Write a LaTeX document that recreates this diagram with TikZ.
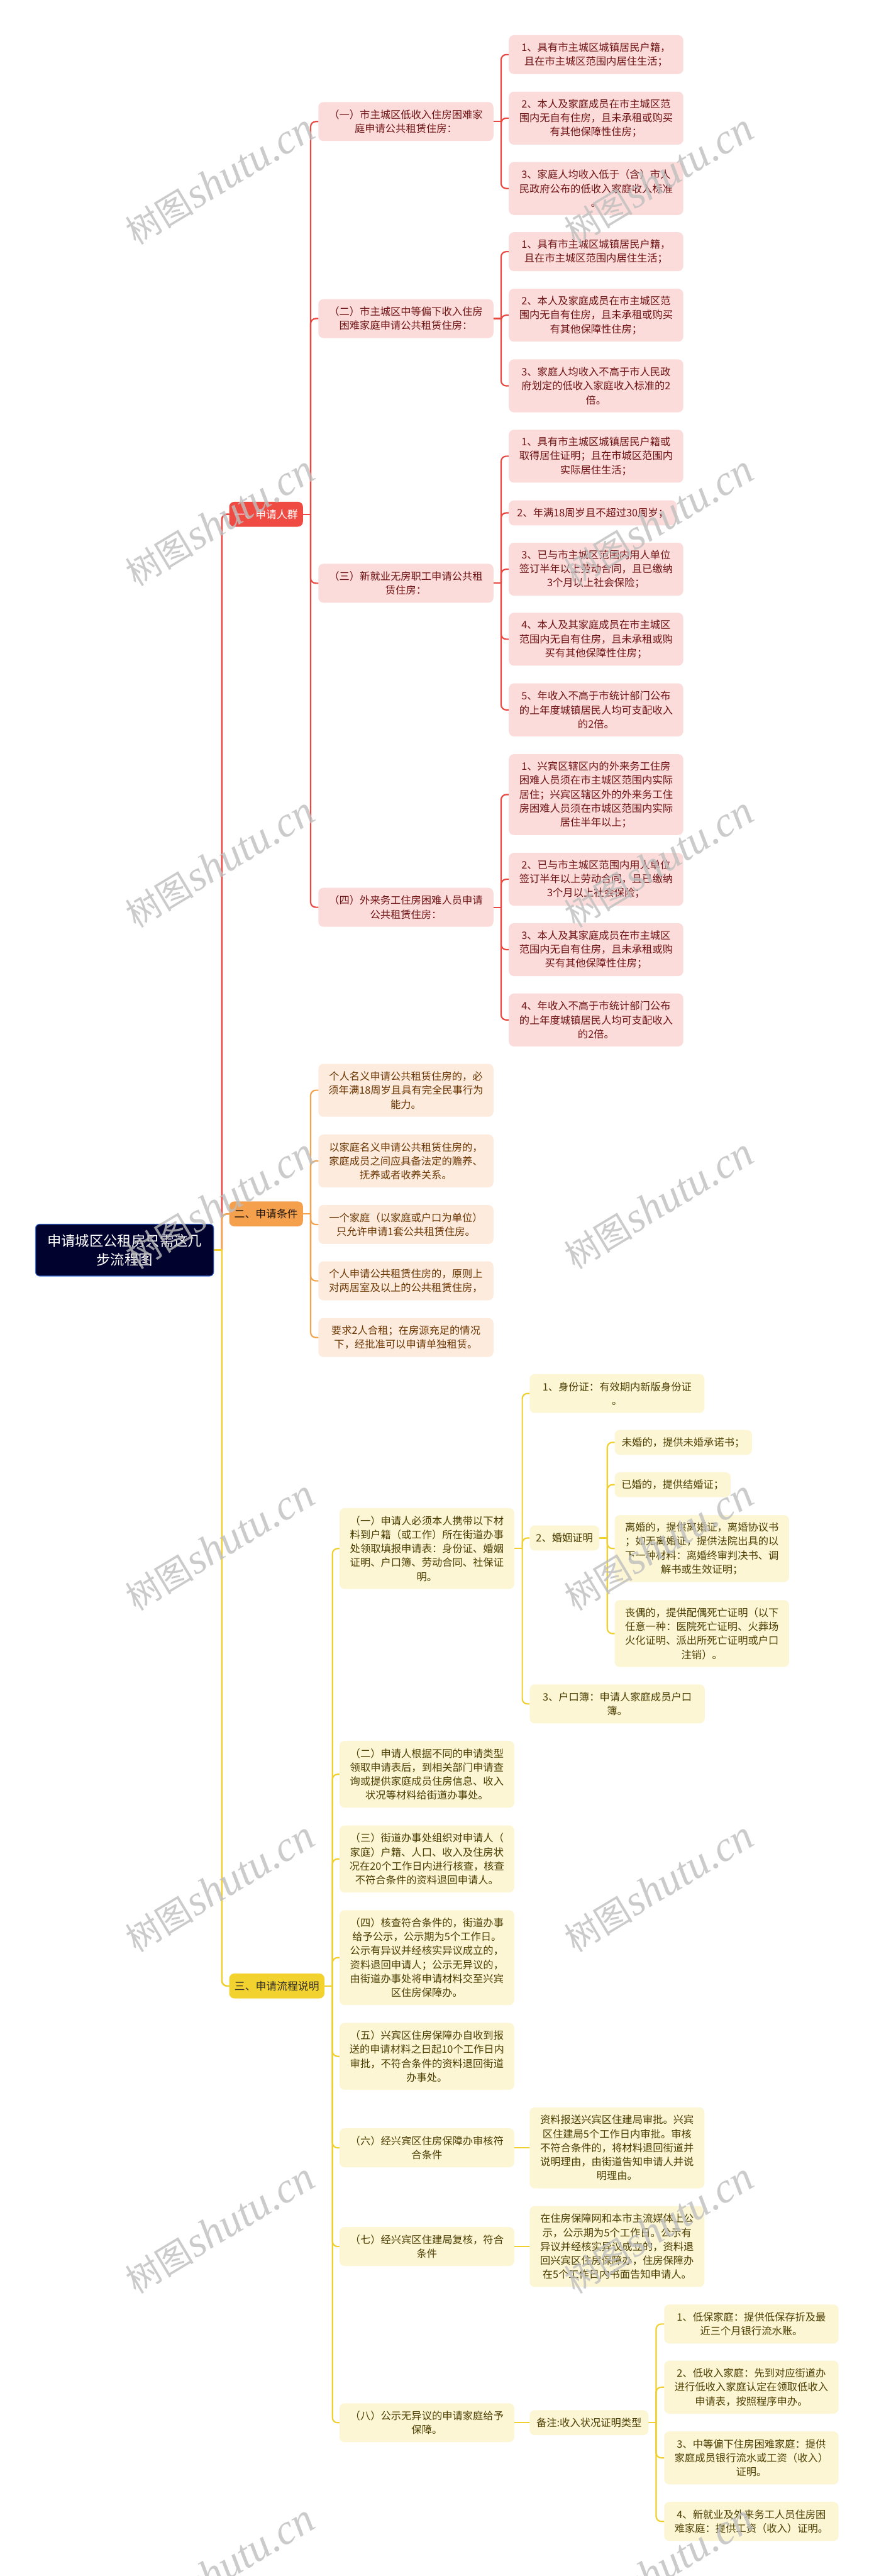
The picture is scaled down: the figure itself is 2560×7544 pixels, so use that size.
\documentclass[tikz,border=0pt]{standalone}
\usepackage{fontspec}
\setmainfont{Noto Sans CJK SC}
\newfontfamily\wmlatin{Liberation Serif}
\definecolor{rline}{HTML}{E9473F}
\definecolor{rfill}{HTML}{F04B43}
\definecolor{rleaf}{HTML}{FCDCDB}
\definecolor{rtext}{HTML}{6E1212}
\definecolor{oline}{HTML}{F3A24D}
\definecolor{ofill}{HTML}{F5A04D}
\definecolor{oleaf}{HTML}{FDEBDE}
\definecolor{otext}{HTML}{6A3500}
\definecolor{yline}{HTML}{F0D02E}
\definecolor{yfill}{HTML}{F2D22E}
\definecolor{yleaf}{HTML}{FDF6D5}
\definecolor{ytext}{HTML}{4B3E00}
\definecolor{rootfill}{HTML}{02022F}
\definecolor{rootborder}{HTML}{3A6FD8}
\definecolor{wmgray}{HTML}{BEBEBE}
\pgfdeclarelayer{bg}
\pgfsetlayers{bg,main}
\tikzset{
  base/.style={rounded corners=7.5pt, align=center, inner sep=0pt, anchor=west,
    font=\fontsize{15}{20.5}\selectfont},
  nl/.style={minimum height={(41*#1+32)*0.5pt}},
  wd/.style={minimum width={#1*0.5pt}},
  rnode/.style={base, fill=rleaf, text=rtext},
  onode/.style={base, fill=oleaf, text=otext},
  ynode/.style={base, fill=yleaf, text=ytext},
  topic/.style={rounded corners=7.5pt, align=center, inner sep=0pt, anchor=west,
    font=\fontsize{15.5}{20.5}\selectfont, minimum height=36.5pt},
  rootbox/.style={rounded corners=6pt, align=center, inner sep=0pt, anchor=west,
    fill=rootfill, draw=rootborder, line width=1pt, text=white,
    font=\fontsize{20.6}{27.5}\selectfont, minimum width=261pt, minimum height=76pt},
  rconn/.style={draw=rline, line width=2pt, rounded corners=7.5pt, line cap=round},
  oconn/.style={draw=oline, line width=2pt, rounded corners=7.5pt, line cap=round},
  yconn/.style={draw=yline, line width=2pt, rounded corners=7.5pt, line cap=round},
  wm/.style={rotate=31, text=wmgray, text opacity=0.8, inner sep=0pt},
}
\begin{document}
\begin{tikzpicture}[x=0.5pt,y=-0.5pt]
\useasboundingbox (0,0) rectangle (2560,7544);
\begin{pgfonlayer}{bg}
\fill[white] (0,0) rectangle (2560,7544);
\end{pgfonlayer}

% root and topics
\node[rootbox] (root) at (103,3661) {申请城区公租房只需这几\\步流程图};
\node[topic, fill=rfill, text=white, minimum width=108pt] (s1) at (671,1506) {一、申请人群};
\node[topic, fill=ofill, text={black!85!brown}, minimum width=108pt] (s2) at (671,3555) {二、申请条件};
\node[topic, fill=yfill, text={black!85!olive}, minimum width=139.5pt] (s3) at (671,5816) {三、申请流程说明};

% red branch
\node[rnode,wd=513,nl=2] (a1) at (932,356) {（一）市主城区低收入住房困难家\\庭申请公共租赁住房：};
\node[rnode,wd=513,nl=2] (a2) at (932,933) {（二）市主城区中等偏下收入住房\\困难家庭申请公共租赁住房：};
\node[rnode,wd=513,nl=2] (a3) at (932,1708) {（三）新就业无房职工申请公共租\\赁住房：};
\node[rnode,wd=513,nl=2] (a4) at (932,2657) {（四）外来务工住房困难人员申请\\公共租赁住房：};

\node[rnode,wd=511,nl=2] (a11) at (1490,160) {1、具有市主城区城镇居民户籍，\\且在市主城区范围内居住生活；};
\node[rnode,wd=511,nl=3] (a12) at (1490,346) {2、本人及家庭成员在市主城区范\\围内无自有住房，且未承租或购买\\有其他保障性住房；};
\node[rnode,wd=511,nl=3] (a13) at (1490,552) {3、家庭人均收入低于（含）市人\\民政府公布的低收入家庭收入标准\\。};

\node[rnode,wd=511,nl=2] (a21) at (1490,737) {1、具有市主城区城镇居民户籍，\\且在市主城区范围内居住生活；};
\node[rnode,wd=511,nl=3] (a22) at (1490,923) {2、本人及家庭成员在市主城区范\\围内无自有住房，且未承租或购买\\有其他保障性住房；};
\node[rnode,wd=511,nl=3] (a23) at (1490,1130) {3、家庭人均收入不高于市人民政\\府划定的低收入家庭收入标准的2\\倍。};

\node[rnode,wd=511,nl=3] (a31) at (1490,1336) {1、具有市主城区城镇居民户籍或\\取得居住证明；且在市城区范围内\\实际居住生活；};
\node[rnode,wd=492,nl=1] (a32) at (1490,1502) {2、年满18周岁且不超过30周岁；};
\node[rnode,wd=511,nl=3] (a33) at (1490,1667) {3、已与市主城区范围内用人单位\\签订半年以上劳动合同，且已缴纳\\3个月以上社会保险；};
\node[rnode,wd=511,nl=3] (a34) at (1490,1872) {4、本人及其家庭成员在市主城区\\范围内无自有住房，且未承租或购\\买有其他保障性住房；};
\node[rnode,wd=511,nl=3] (a35) at (1490,2079) {5、年收入不高于市统计部门公布\\的上年度城镇居民人均可支配收入\\的2倍。};

\node[rnode,wd=511,nl=5] (a41) at (1490,2327) {1、兴宾区辖区内的外来务工住房\\困难人员须在市主城区范围内实际\\居住；兴宾区辖区外的外来务工住\\房困难人员须在市城区范围内实际\\居住半年以上；};
\node[rnode,wd=511,nl=3] (a42) at (1490,2575) {2、已与市主城区范围内用人单位\\签订半年以上劳动合同，且已缴纳\\3个月以上社会保险；};
\node[rnode,wd=511,nl=3] (a43) at (1490,2781) {3、本人及其家庭成员在市主城区\\范围内无自有住房，且未承租或购\\买有其他保障性住房；};
\node[rnode,wd=511,nl=3] (a44) at (1490,2987) {4、年收入不高于市统计部门公布\\的上年度城镇居民人均可支配收入\\的2倍。};

% orange branch
\node[onode,wd=513,nl=3] (b1) at (932,3193) {个人名义申请公共租赁住房的，必\\须年满18周岁且具有完全民事行为\\能力。};
\node[onode,wd=513,nl=3] (b2) at (932,3400) {以家庭名义申请公共租赁住房的，\\家庭成员之间应具备法定的赡养、\\抚养或者收养关系。};
\node[onode,wd=513,nl=2] (b3) at (932,3586) {一个家庭（以家庭或户口为单位）\\只允许申请1套公共租赁住房。};
\node[onode,wd=513,nl=2] (b4) at (932,3751) {个人申请公共租赁住房的，原则上\\对两居室及以上的公共租赁住房，};
\node[onode,wd=513,nl=2] (b5) at (932,3917) {要求2人合租；在房源充足的情况\\下，经批准可以申请单独租赁。};

% yellow branch
\node[ynode,wd=512,nl=5] (c1) at (994,4535) {（一）申请人必须本人携带以下材\\料到户籍（或工作）所在街道办事\\处领取填报申请表：身份证、婚姻\\证明、户口簿、劳动合同、社保证\\明。};
\node[ynode,wd=512,nl=4] (c2) at (994,5196) {（二）申请人根据不同的申请类型\\领取申请表后，到相关部门申请查\\询或提供家庭成员住房信息、收入\\状况等材料给街道办事处。};
\node[ynode,wd=512,nl=4] (c3) at (994,5444) {（三）街道办事处组织对申请人（\\家庭）户籍、人口、收入及住房状\\况在20个工作日内进行核查，核查\\不符合条件的资料退回申请人。};
\node[ynode,wd=512,nl=6] (c4) at (994,5733) {（四）核查符合条件的，街道办事\\给予公示，公示期为5个工作日。\\公示有异议并经核实异议成立的，\\资料退回申请人；公示无异议的，\\由街道办事处将申请材料交至兴宾\\区住房保障办。};
\node[ynode,wd=512,nl=4] (c5) at (994,6022) {（五）兴宾区住房保障办自收到报\\送的申请材料之日起10个工作日内\\审批，不符合条件的资料退回街道\\办事处。};
\node[ynode,wd=512,nl=2] (c6) at (994,6290) {（六）经兴宾区住房保障办审核符\\合条件};
\node[ynode,wd=512,nl=2] (c7) at (994,6579) {（七）经兴宾区住建局复核，符合\\条件};
\node[ynode,wd=512,nl=2] (c8) at (994,7095) {（八）公示无异议的申请家庭给予\\保障。};

\node[ynode,wd=512,nl=2] (c11) at (1551,4081) {1、身份证：有效期内新版身份证\\。};
\node[ynode,wd=204,nl=1] (c12) at (1551,4504) {2、婚姻证明};
\node[ynode,wd=513,nl=2] (c13) at (1551,4990) {3、户口簿：申请人家庭成员户口\\簿。};

\node[ynode,wd=402,nl=1] (m1) at (1800,4224) {未婚的，提供未婚承诺书；};
\node[ynode,wd=340,nl=1] (m2) at (1800,4348) {已婚的，提供结婚证；};
\node[ynode,wd=511,nl=4] (m3) at (1800,4535) {离婚的，提供离婚证，离婚协议书\\；如无离婚证，提供法院出具的以\\下一种材料：离婚终审判决书、调\\解书或生效证明；};
\node[ynode,wd=511,nl=4] (m4) at (1800,4784) {丧偶的，提供配偶死亡证明（以下\\任意一种：医院死亡证明、火葬场\\火化证明、派出所死亡证明或户口\\注销）。};

\node[ynode,wd=512,nl=5] (c61) at (1551,6290) {资料报送兴宾区住建局审批。兴宾\\区住建局5个工作日内审批。审核\\不符合条件的，将材料退回街道并\\说明理由，由街道告知申请人并说\\明理由。};
\node[ynode,wd=512,nl=5] (c71) at (1551,6579) {在住房保障网和本市主流媒体上公\\示，公示期为5个工作日。公示有\\异议并经核实异议成立的，资料退\\回兴宾区住房保障办，住房保障办\\在5个工作日内书面告知申请人。};
\node[ynode,wd=348,nl=1] (c81) at (1551,7095) {备注:收入状况证明类型};

\node[ynode,wd=511,nl=2] (n1) at (1945,6806) {1、低保家庭：提供低保存折及最\\近三个月银行流水账。};
\node[ynode,wd=511,nl=3] (n2) at (1945,6991) {2、低收入家庭：先到对应街道办\\进行低收入家庭认定在领取低收入\\申请表，按照程序申办。};
\node[ynode,wd=511,nl=3] (n3) at (1945,7198) {3、中等偏下住房困难家庭：提供\\家庭成员银行流水或工资（收入）\\证明。};
\node[ynode,wd=511,nl=2] (n4) at (1945,7384) {4、新就业及外来务工人员住房困\\难家庭：提供工资（收入）证明。};

% trunk coordinates
\path (root.east) ++(23,0) coordinate (rt);
\path (s1.east) ++(22,0) coordinate (s1t);
\path (s2.east) ++(22,0) coordinate (s2t);
\path (s3.east) ++(23,0) coordinate (s3t);
\path (a1.east) ++(22,0) coordinate (a1t);
\path (a2.east) ++(22,0) coordinate (a2t);
\path (a3.east) ++(22,0) coordinate (a3t);
\path (a4.east) ++(22,0) coordinate (a4t);
\path (c1.east) ++(23,0) coordinate (c1t);
\path (c12.east) ++(23,0) coordinate (c12t);
\path (c81.east) ++(22,0) coordinate (c81t);

\begin{pgfonlayer}{bg}
% root level
\draw[rconn, line width=2.4pt] (rt) |- (s1.west);
\draw[oconn, line width=2.4pt] (rt) |- (s2.west);
\draw[yconn, line width=2.4pt] (rt) |- (s3.west);
\draw[yconn, line width=2.4pt] (root.east) -- (rt);
% red
\draw[rconn] (s1.east) -- (s1t);
\foreach \c in {a1,a2,a3,a4} { \draw[rconn] (s1t) |- (\c.west); }
\draw[rconn] (a1.east) -- (a1t);
\foreach \c in {a11,a12,a13} { \draw[rconn] (a1t) |- (\c.west); }
\draw[rconn] (a2.east) -- (a2t);
\foreach \c in {a21,a22,a23} { \draw[rconn] (a2t) |- (\c.west); }
\draw[rconn] (a3.east) -- (a3t);
\foreach \c in {a31,a32,a33,a34,a35} { \draw[rconn] (a3t) |- (\c.west); }
\draw[rconn] (a4.east) -- (a4t);
\foreach \c in {a41,a42,a43,a44} { \draw[rconn] (a4t) |- (\c.west); }
% orange
\draw[oconn] (s2.east) -- (s2t);
\foreach \c in {b1,b2,b3,b4,b5} { \draw[oconn] (s2t) |- (\c.west); }
% yellow
\draw[yconn] (s3.east) -- (s3t);
\foreach \c in {c1,c2,c3,c4,c5,c6,c7,c8} { \draw[yconn] (s3t) |- (\c.west); }
\draw[yconn] (c1.east) -- (c1t);
\foreach \c in {c11,c12,c13} { \draw[yconn] (c1t) |- (\c.west); }
\draw[yconn] (c12.east) -- (c12t);
\foreach \c in {m1,m2,m3,m4} { \draw[yconn] (c12t) |- (\c.west); }
\draw[yconn] (c6.east) -- (c61.west);
\draw[yconn] (c7.east) -- (c71.west);
\draw[yconn] (c8.east) -- (c81.west);
\draw[yconn] (c81.east) -- (c81t);
\foreach \c in {n1,n2,n3,n4} { \draw[yconn] (c81t) |- (\c.west); }
\end{pgfonlayer}

% watermarks
\foreach \k in {0,...,7} {
  \node[wm] (wl\k) at (645,{526+1000*\k}) {{\fontsize{50}{50}\selectfont 树图}\,{\wmlatin\itshape\fontsize{62}{62}\selectfont shutu.cn}};
  \node[wm] (wr\k) at (1930,{526+1000*\k}) {{\fontsize{50}{50}\selectfont 树图}\,{\wmlatin\itshape\fontsize{62}{62}\selectfont shutu.cn}};
}
\end{tikzpicture}
\end{document}
